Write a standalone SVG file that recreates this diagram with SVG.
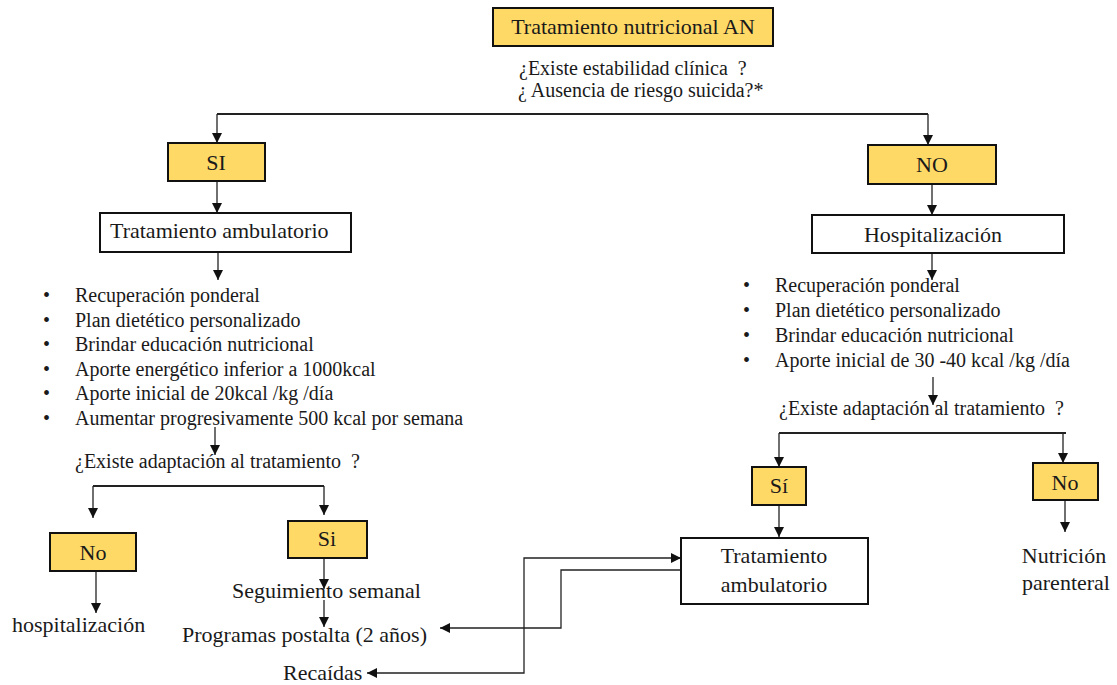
<svg xmlns="http://www.w3.org/2000/svg" width="1117" height="685" viewBox="0 0 1117 685">
<style>
text{font-family:"Liberation Serif","Times New Roman",serif;fill:#1a1a1a}
.b{font-size:22px}
.m{font-size:20px}
.c{text-anchor:middle}
.p{white-space:pre}
.y{fill:#FFD966;stroke:#111;stroke-width:2}
.w{fill:#fff;stroke:#111;stroke-width:2}
.ln{fill:none;stroke:#222;stroke-width:1.3}
.bar{fill:none;stroke:#222;stroke-width:2}
</style>
<defs>
<marker id="ah" markerUnits="userSpaceOnUse" markerWidth="10" markerHeight="10" viewBox="0 0 8 8" refX="8" refY="4" orient="auto-start-reverse">
<path d="M0,0 L8,4 L0,8 z" fill="#111"/>
</marker>
</defs>
<rect width="1117" height="685" fill="#fff"/>
<g id="connectors">
<path class="bar" d="M217,114 H928"/>
<path class="ln" d="M217,114 V143" marker-end="url(#ah)"/>
<path class="ln" d="M928,114 V145" marker-end="url(#ah)"/>
<path class="ln" d="M217,181 V213" marker-end="url(#ah)"/>
<path class="ln" d="M218,252 V280" marker-end="url(#ah)"/>
<path class="ln" d="M215,427 V455" marker-end="url(#ah)"/>
<path class="bar" d="M93,486 H324"/>
<path class="ln" d="M93,486 V518" marker-end="url(#ah)"/>
<path class="ln" d="M324,486 V515" marker-end="url(#ah)"/>
<path class="ln" d="M96,571 V613" marker-end="url(#ah)"/>
<path class="ln" d="M324,558 V589" marker-end="url(#ah)"/>
<path class="ln" d="M324,600 V627" marker-end="url(#ah)"/>
<path class="ln" d="M932,184 V215" marker-end="url(#ah)"/>
<path class="ln" d="M932,253 V280" marker-end="url(#ah)"/>
<path class="ln" d="M933,377 V405" marker-end="url(#ah)"/>
<path class="bar" d="M779,433 H1066"/>
<path class="ln" d="M779,433 V467" marker-end="url(#ah)"/>
<path class="ln" d="M1063,433 V463" marker-end="url(#ah)"/>
<path class="ln" d="M779,505 V537" marker-end="url(#ah)"/>
<path class="ln" d="M1065,500 V532" marker-end="url(#ah)"/>
<path class="ln" d="M681,570 H561 V628 H440" marker-end="url(#ah)"/>
<path class="ln" d="M367,673 H524 V558 H681" marker-start="url(#ah)" marker-end="url(#ah)"/>
</g>
<g id="title"><rect class="y" x="493" y="8" width="280" height="38"/><text class="b c" x="633" y="34">Tratamiento nutricional AN</text></g>
<g id="q1"><text class="m p" x="519" y="75">¿Existe estabilidad clínica  ?</text><text class="m" x="518" y="97">¿ Ausencia de riesgo suicida?*</text></g>
<g id="si"><rect class="y" x="168" y="143" width="97" height="38"/><text class="b c" x="216" y="170">SI</text></g>
<g id="no"><rect class="y" x="868" y="145" width="128" height="39"/><text class="b c" x="932" y="172">NO</text></g>
<g id="tratamiento-ambulatorio"><rect class="w" x="100" y="213" width="251" height="39"/><text class="b" x="110" y="238">Tratamiento ambulatorio</text></g>
<g id="hospitalizacion"><rect class="w" x="812" y="215" width="252" height="38"/><text class="b c" x="933" y="242">Hospitalización</text></g>
<g id="lista-ambulatorio" class="m">
<text x="43" y="302">•</text><text x="75" y="302">Recuperación ponderal</text>
<text x="43" y="326.6">•</text><text x="75" y="326.6">Plan dietético personalizado</text>
<text x="43" y="351.2">•</text><text x="75" y="351.2">Brindar educación nutricional</text>
<text x="43" y="375.8">•</text><text x="75" y="375.8">Aporte energético inferior a 1000kcal</text>
<text x="43" y="400.4">•</text><text x="75" y="400.4">Aporte inicial de 20kcal /kg /día</text>
<text x="43" y="425">•</text><text x="75" y="425">Aumentar progresivamente 500 kcal por semana</text>
</g>
<g id="lista-hospital" class="m">
<text x="743" y="292">•</text><text x="775" y="292">Recuperación ponderal</text>
<text x="743" y="317">•</text><text x="775" y="317">Plan dietético personalizado</text>
<text x="743" y="342">•</text><text x="775" y="342">Brindar educación nutricional</text>
<text x="743" y="367">•</text><text x="775" y="367">Aporte inicial de 30 -40 kcal /kg /día</text>
</g>
<g id="q2"><text class="m p" x="75" y="468">¿Existe adaptación al tratamiento  ?</text></g>
<g id="q3"><text class="m p" x="779" y="415">¿Existe adaptación al tratamiento  ?</text></g>
<g id="no-left"><rect class="y" x="50" y="533" width="86" height="38"/><text class="b c" x="93" y="560">No</text></g>
<g id="si-left"><rect class="y" x="288" y="521" width="79" height="37"/><text class="b c" x="327" y="546">Si</text></g>
<g id="hospitalizacion-left"><text class="b" x="12" y="632">hospitalización</text></g>
<g id="seguimiento"><text class="b" x="232" y="598">Seguimiento semanal</text></g>
<g id="programas"><text class="b" x="182" y="642">Programas postalta (2 años)</text></g>
<g id="recaidas"><text class="b" x="283" y="680">Recaídas</text></g>
<g id="si-right"><rect class="y" x="752" y="467" width="54" height="38"/><text class="b c" x="779" y="493">Sí</text></g>
<g id="no-right"><rect class="y" x="1033" y="463" width="65" height="37"/><text class="b c" x="1065" y="490">No</text></g>
<g id="tratamiento-ambulatorio-2"><rect class="w" x="681" y="538" width="187" height="66"/><text class="b c" x="774" y="563">Tratamiento</text><text class="b c" x="774" y="592">ambulatorio</text></g>
<g id="nutricion-parenteral"><text class="b c" x="1064" y="563">Nutrición</text><text class="b c" x="1066" y="590">parenteral</text></g>
</svg>
